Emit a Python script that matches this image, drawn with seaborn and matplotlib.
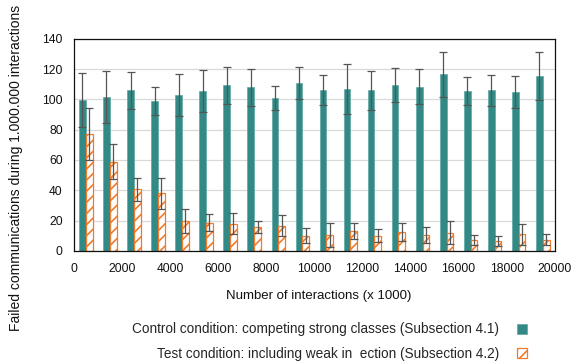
import numpy as np
import pandas as pd
import matplotlib
matplotlib.use("Agg")
import matplotlib.pyplot as plt
import seaborn as sns
from matplotlib.patches import Patch

# Interaction counts (x 1000) at the middle of each block
interactions = [500, 1500, 2500, 3500, 4500, 5500, 6500, 7500, 8500, 9500,
                10500, 11500, 12500, 13500, 14500, 15500, 16500, 17500, 18500, 19500]

control_mean = [99.5, 101.5, 105.9, 99.0, 103.0, 105.4, 109.2, 107.9, 101.0, 110.7,
                106.3, 106.7, 105.9, 109.6, 108.5, 116.7, 105.6, 105.9, 104.8, 115.3]
control_err = [18.0, 17.0, 12.0, 9.0, 14.0, 14.0, 12.5, 12.3, 7.8, 10.6,
               9.8, 16.5, 13.0, 11.2, 11.3, 14.8, 9.4, 10.0, 10.8, 16.0]

test_mean = [77.3, 58.8, 40.7, 37.9, 19.8, 18.7, 17.8, 15.8, 16.5, 9.9,
             10.6, 13.2, 10.1, 12.5, 10.6, 11.9, 7.0, 6.6, 11.0, 7.3]
test_err = [17.0, 11.5, 7.5, 10.0, 8.0, 5.5, 7.0, 4.2, 7.0, 5.0,
            8.0, 5.5, 4.0, 6.0, 5.3, 7.7, 3.3, 3.5, 7.0, 3.7]

control_label = "Control condition: competing strong classes (Subsection 4.1)"
test_label = "Test condition: including weak in  ection (Subsection 4.2)"

x_ticks = list(range(0, 20001, 2000))
y_ticks = list(range(0, 141, 20))

teal = "#328985"
orange = "#EF7B2C"
err_color = "#555555"

sns.set_theme(style="white")
plt.rcParams["font.family"] = ["Liberation Sans", "DejaVu Sans"]
plt.rcParams["hatch.linewidth"] = 1.2

df = pd.DataFrame({
    "interactions": interactions * 2,
    "failed": control_mean + test_mean,
    "condition": [control_label] * len(interactions) + [test_label] * len(interactions),
})

fig = plt.figure(figsize=(5.72, 3.63), dpi=100)
ax = fig.add_axes([0.129, 0.309, 0.841, 0.584])

sns.barplot(data=df, x="interactions", y="failed", hue="condition",
            hue_order=[control_label, test_label],
            palette=[teal, orange], native_scale=True, width=0.56,
            errorbar=None, legend=False, ax=ax, zorder=2)

ctrl_bars, test_bars = ax.containers[0], ax.containers[1]
for p in ctrl_bars:
    p.set_facecolor(teal)
    p.set_edgecolor("#5fa8a4")
    p.set_linewidth(0.5)
for p in test_bars:
    p.set_facecolor("white")
    p.set_edgecolor(orange)
    p.set_hatch("///")
    p.set_linewidth(0.9)

# Error bars at the centres of the drawn bars
for bars, means, errs in ((ctrl_bars, control_mean, control_err),
                          (test_bars, test_mean, test_err)):
    xs = [p.get_x() + p.get_width() / 2 for p in bars]
    ax.errorbar(xs, means, yerr=errs, fmt="none", ecolor=err_color,
                elinewidth=0.9, capsize=2.6, capthick=0.9, zorder=3)

ax.set_xlim(0, 20000)
ax.set_ylim(0, 140)
ax.set_xticks(x_ticks)
ax.set_xticklabels([str(t) for t in x_ticks])
ax.set_yticks(y_ticks)
ax.set_yticklabels([str(t) for t in y_ticks])
ax.tick_params(axis="x", length=0, labelsize=8.7, colors="#111111", pad=9)
ax.tick_params(axis="y", length=0, labelsize=8.7, colors="#111111", pad=8)
ax.yaxis.grid(True, color="#d9d9d9", linewidth=0.9, zorder=0)
ax.xaxis.grid(False)
ax.set_axisbelow(True)
for s in ax.spines.values():
    s.set_visible(True)
    s.set_color("#111111")
    s.set_linewidth(0.9)

ax.set_xlabel("Number of interactions (x 1000)", fontsize=9.5, color="#111111")
ax.xaxis.set_label_coords(0.51, -0.185)
ax.set_ylabel("")
fig.text(0.028, 0.537, "Failed communications during 1.000.000 interactions",
         rotation=90, ha="center", va="center", fontsize=10, color="#111111")

handles = [
    Patch(facecolor=teal, edgecolor="#5fa8a4", linewidth=0.5, label=control_label),
    Patch(facecolor="white", edgecolor=orange, hatch="///", linewidth=0.9, label=test_label),
]
fig.legend(handles=handles, loc="upper right", bbox_to_anchor=(0.922, 0.112),
           frameon=False, markerfirst=False, fontsize=9.8, handlelength=0.75,
           handleheight=0.75, handletextpad=1.3, labelspacing=0.75,
           borderaxespad=0.0, borderpad=0.0)

fig.savefig("out.png", dpi=100)
